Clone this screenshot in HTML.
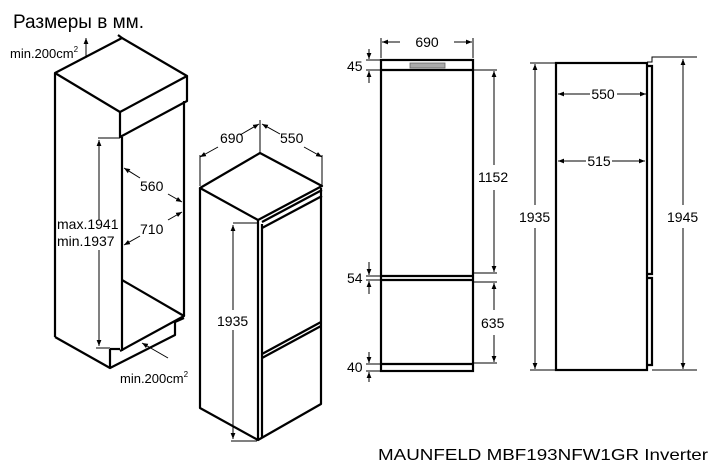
<!DOCTYPE html>
<html><head><meta charset="utf-8"><style>
html,body{margin:0;padding:0;background:#fff}
svg{display:block}
text{font-family:"Liberation Sans",Arial,sans-serif;fill:#000}
</style></head><body>
<svg width="720" height="473" viewBox="0 0 720 473" xmlns="http://www.w3.org/2000/svg">
<defs>
<marker id="a" viewBox="0 0 10 10" refX="10" refY="5" markerWidth="6" markerHeight="6" orient="auto-start-reverse"><path d="M0,1 L10,5 L0,9 z" fill="#000"/></marker>
</defs>
<text x="13" y="28" font-size="19">Размеры в мм.</text>

<!-- cabinet -->
<g fill="none" stroke="#000" stroke-width="2.2" stroke-linejoin="round">
<polyline points="55,337 55,73 122,38 187,76 120,112 55,73"/>
<polyline points="120,112 120,137 187,101 187,76"/>
<line x1="122" y1="38" x2="118" y2="35"/>
<line x1="122" y1="137" x2="122" y2="351"/>
<line x1="184" y1="101" x2="184" y2="316"/>
<polyline points="122,280 184,316 120,351"/>
<polyline points="184,318 175,322 175,335 110,368 55,337"/>
<line x1="110" y1="349" x2="110" y2="368"/>
<line x1="110" y1="349" x2="120" y2="349"/>
</g>
<g stroke="#000" stroke-width="1" fill="none">
<line x1="98" y1="138" x2="120" y2="138"/>
<line x1="99" y1="220" x2="99" y2="140" marker-end="url(#a)"/>
<line x1="99" y1="250" x2="99" y2="346" marker-end="url(#a)"/>
<line x1="96" y1="348" x2="110" y2="348"/>
<line x1="140" y1="178" x2="124" y2="168" marker-end="url(#a)"/>
<line x1="168" y1="194" x2="182" y2="202" marker-end="url(#a)"/>
<line x1="168" y1="220" x2="182" y2="212" marker-end="url(#a)"/>
<line x1="140" y1="236" x2="124" y2="245" marker-end="url(#a)"/>
<line x1="86" y1="58" x2="86" y2="38" marker-end="url(#a)"/>
<line x1="168" y1="358" x2="142" y2="343" marker-end="url(#a)"/>
</g>
<text x="10" y="58" font-size="13">min.200cm<tspan font-size="8" dy="-6">2</tspan></text>
<text x="140" y="191" font-size="14">560</text>
<text x="140" y="234" font-size="14">710</text>
<text x="57" y="229" font-size="14">max.1941</text>
<text x="57" y="246" font-size="14">min.1937</text>
<text x="120" y="383" font-size="13">min.200cm<tspan font-size="8" dy="-6">2</tspan></text>

<!-- iso fridge -->
<g fill="none" stroke="#000" stroke-width="2.2" stroke-linejoin="round">
<polygon points="200,188 260,153 322,186 258,220"/>
<polyline points="200,188 200,408 258,440 321,404 321,188"/>
<line x1="258" y1="220" x2="258" y2="440"/>
<line x1="262" y1="224" x2="262" y2="438"/>
<line x1="262" y1="222" x2="322" y2="190"/>
<line x1="262" y1="228" x2="322" y2="196"/>
<line x1="262" y1="354" x2="321" y2="322"/>
<line x1="262" y1="358" x2="321" y2="326"/>
</g>
<g stroke="#000" stroke-width="1" fill="none">
<line x1="200" y1="155" x2="200" y2="186"/>
<line x1="260" y1="120" x2="260" y2="152"/>
<line x1="322" y1="155" x2="322" y2="185"/>
<line x1="218" y1="147" x2="200" y2="157" marker-end="url(#a)"/>
<line x1="240" y1="135" x2="259" y2="124" marker-end="url(#a)"/>
<line x1="280" y1="134" x2="262" y2="124" marker-end="url(#a)"/>
<line x1="304" y1="147" x2="322" y2="157" marker-end="url(#a)"/>
<line x1="233" y1="223" x2="257" y2="223"/>
<line x1="233" y1="310" x2="233" y2="225" marker-end="url(#a)"/>
<line x1="233" y1="330" x2="233" y2="439" marker-end="url(#a)"/>
<line x1="231" y1="441" x2="257" y2="441"/>
</g>
<text x="220" y="143" font-size="14">690</text>
<text x="280" y="143" font-size="14">550</text>
<text x="217" y="326" font-size="14">1935</text>

<!-- front view -->
<g fill="none" stroke="#000" stroke-width="2.2">
<rect x="381" y="60" width="92" height="311"/>
<line x1="381" y1="70" x2="473" y2="70"/>
<line x1="381" y1="276" x2="473" y2="276"/>
<line x1="381" y1="280" x2="473" y2="280"/>
<line x1="381" y1="364" x2="473" y2="364"/>
</g>
<rect x="410" y="63" width="35" height="5" fill="#aaa" stroke="#666" stroke-width="0.8"/>
<g stroke="#000" stroke-width="1" fill="none">
<line x1="381" y1="38" x2="381" y2="58"/>
<line x1="473" y1="38" x2="473" y2="58"/>
<line x1="400" y1="42" x2="382" y2="42" marker-end="url(#a)"/>
<line x1="454" y1="42" x2="472" y2="42" marker-end="url(#a)"/>
<line x1="366" y1="60" x2="381" y2="60"/><line x1="366" y1="70" x2="381" y2="70"/>
<line x1="369" y1="49" x2="369" y2="59" marker-end="url(#a)"/>
<line x1="369" y1="83" x2="369" y2="71" marker-end="url(#a)"/>
<line x1="366" y1="276" x2="381" y2="276"/><line x1="366" y1="280" x2="381" y2="280"/>
<line x1="369" y1="262" x2="369" y2="275" marker-end="url(#a)"/>
<line x1="369" y1="294" x2="369" y2="281" marker-end="url(#a)"/>
<line x1="366" y1="364" x2="381" y2="364"/><line x1="366" y1="371" x2="381" y2="371"/>
<line x1="369" y1="352" x2="369" y2="363" marker-end="url(#a)"/>
<line x1="369" y1="382" x2="369" y2="372" marker-end="url(#a)"/>
<line x1="473" y1="70" x2="497" y2="70"/><line x1="473" y1="273" x2="497" y2="273"/>
<line x1="494" y1="165" x2="494" y2="71" marker-end="url(#a)"/>
<line x1="494" y1="190" x2="494" y2="272" marker-end="url(#a)"/>
<line x1="473" y1="282" x2="497" y2="282"/><line x1="473" y1="363" x2="497" y2="363"/>
<line x1="494" y1="310" x2="494" y2="283" marker-end="url(#a)"/>
<line x1="494" y1="335" x2="494" y2="362" marker-end="url(#a)"/>
</g>
<text x="427" y="47" font-size="14" text-anchor="middle">690</text>
<text x="347" y="71" font-size="14">45</text>
<text x="347" y="283" font-size="14">54</text>
<text x="347" y="372" font-size="14">40</text>
<text x="478" y="182" font-size="14">1152</text>
<text x="481" y="328" font-size="14">635</text>

<!-- side view -->
<g fill="none" stroke="#000" stroke-width="2.2">
<rect x="556" y="63" width="91" height="307"/>
<polyline points="647,66 652,66 652,274 647,274"/>
<polyline points="647,278 652,278 652,365 647,365"/>
</g>
<g stroke="#000" stroke-width="1" fill="none">
<polyline points="647,62 652,62 652,57 697,57"/>
<line x1="652" y1="370" x2="697" y2="370"/>
<line x1="530" y1="63" x2="556" y2="63"/><line x1="530" y1="370" x2="556" y2="370"/>
<line x1="535" y1="205" x2="535" y2="64" marker-end="url(#a)"/>
<line x1="535" y1="228" x2="535" y2="369" marker-end="url(#a)"/>
<line x1="683" y1="205" x2="683" y2="59" marker-end="url(#a)"/>
<line x1="683" y1="228" x2="683" y2="369" marker-end="url(#a)"/>
<line x1="590" y1="94" x2="558" y2="94" marker-end="url(#a)"/>
<line x1="617" y1="94" x2="646" y2="94" marker-end="url(#a)"/>
<line x1="586" y1="161" x2="558" y2="161" marker-end="url(#a)"/>
<line x1="612" y1="161" x2="645" y2="161" marker-end="url(#a)"/>
</g>
<text x="603" y="99" font-size="14" text-anchor="middle">550</text>
<text x="599" y="166" font-size="14" text-anchor="middle">515</text>
<text x="519" y="222" font-size="14">1935</text>
<text x="667" y="222" font-size="14">1945</text>

<text x="378" y="460" font-size="16" textLength="330" lengthAdjust="spacingAndGlyphs">MAUNFELD MBF193NFW1GR Inverter</text>
</svg>
</body></html>
